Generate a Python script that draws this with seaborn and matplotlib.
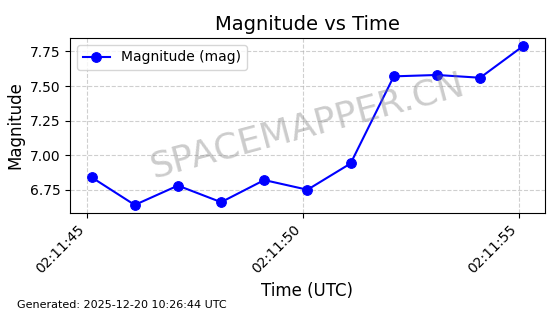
import matplotlib
matplotlib.use("Agg")
import matplotlib.pyplot as plt
import matplotlib.dates as mdates
import seaborn as sns
import pandas as pd

times = ["02:11:45.1", "02:11:46.1", "02:11:47.1", "02:11:48.1", "02:11:49.1",
         "02:11:50.1", "02:11:51.1", "02:11:52.1", "02:11:53.1", "02:11:54.1", "02:11:55.1"]
magnitude = [6.84, 6.64, 6.78, 6.66, 6.82, 6.75, 6.94, 7.57, 7.58, 7.56, 7.79]

df = pd.DataFrame({
    "time": pd.to_datetime(["2025-12-20 " + t for t in times]),
    "mag": magnitude,
})

fig, ax = plt.subplots(figsize=(5.6, 3.14), dpi=100)
sns.lineplot(data=df, x="time", y="mag", ax=ax, color="blue", marker="o",
             markersize=7, markeredgecolor="blue", linewidth=1.5,
             label="Magnitude (mag)")
ax.set_title("Magnitude vs Time", fontsize=14)
ax.set_xlabel("Time (UTC)", fontsize=12)
ax.set_ylabel("Magnitude", fontsize=12)
ax.grid(True, linestyle="--", alpha=0.6)
ax.xaxis.set_major_locator(mdates.SecondLocator(bysecond=range(0, 60, 5)))
ax.xaxis.set_major_formatter(mdates.DateFormatter("%H:%M:%S"))
plt.setp(ax.get_xticklabels(), rotation=45, ha="right")
ax.legend(loc="upper left", fontsize=10)
ax.text(0.5, 0.5, "SPACEMAPPER.CN", transform=ax.transAxes, fontsize=26,
        color="gray", alpha=0.4, rotation=15, ha="center", va="center")
fig.text(0.03, 0.02, "Generated: 2025-12-20 10:26:44 UTC", fontsize=8)
fig.subplots_adjust(left=0.125, right=0.973, top=0.879, bottom=0.322)
fig.savefig("out.png", dpi=100)
